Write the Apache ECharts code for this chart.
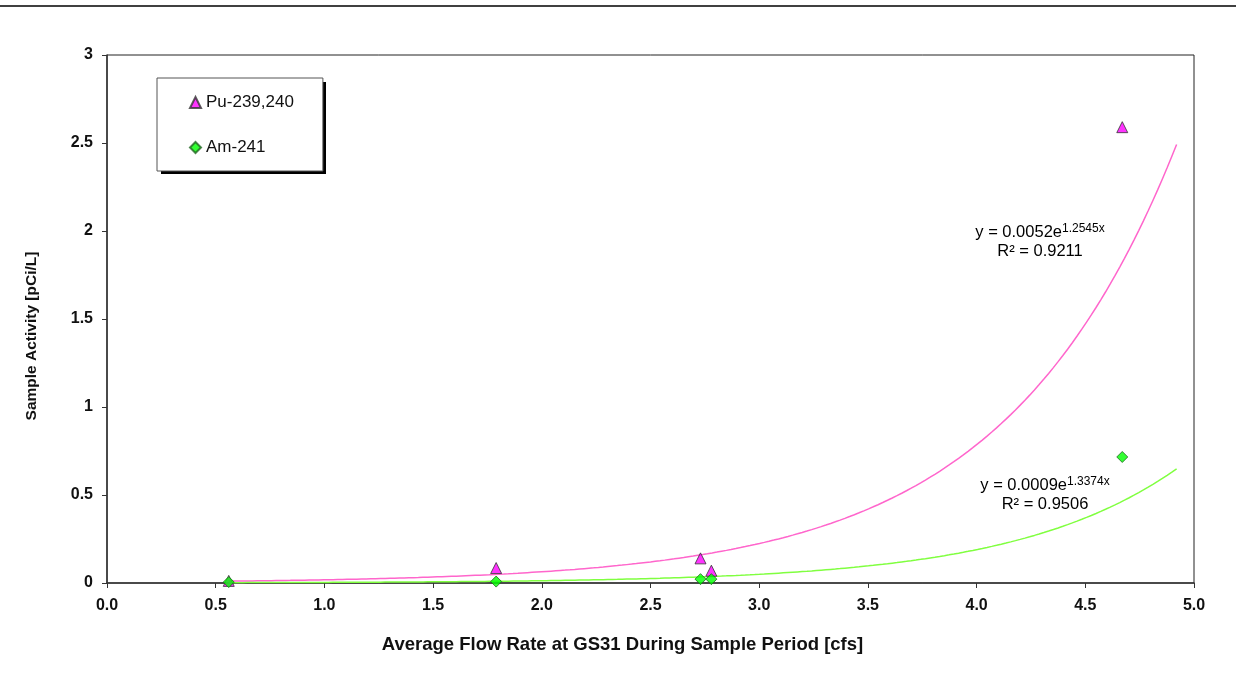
<!DOCTYPE html>
<html>
<head>
<meta charset="utf-8">
<script src="https://cdn.jsdelivr.net/npm/echarts@6/dist/echarts.min.js"></script>
<style>
  html, body { margin: 0; padding: 0; background: #fff; }
  #chart { width: 1236px; height: 673px; }
</style>
</head>
<body>
<div id="chart"></div>
<script>
// Average flow rate at GS31 [cfs] for each sample
const flowRate = [0.56, 1.79, 2.73, 2.78, 4.67];
// Sample activity [pCi/L]
const puActivity = [0.012, 0.085, 0.14, 0.07, 2.59];
const amActivity = [0.005, 0.008, 0.022, 0.022, 0.716];

// Exponential trendlines y = a * e^(b x)
const puFit = { a: 0.0052, b: 1.2545, r2: '0.9211', from: 0.56, to: 4.92 };
const amFit = { a: 0.0009, b: 1.3374, r2: '0.9506', from: 0.56, to: 4.92 };

const xTicks = { min: 0, max: 5, interval: 0.5 };
const yTicks = { min: 0, max: 3, interval: 0.5 };

function pairs(xs, ys) { return xs.map((x, i) => [x, ys[i]]); }
function trend(fit) {
  const pts = [];
  const n = 200;
  for (let i = 0; i <= n; i++) {
    const x = fit.from + (fit.to - fit.from) * i / n;
    pts.push([x, fit.a * Math.exp(fit.b * x)]);
  }
  return pts;
}
function equation(fit) {
  return '{b|y = ' + fit.a + 'e}{s|' + fit.b + 'x}\n{b|R² = ' + fit.r2 + '}';
}

const FONT = '"Liberation Sans", Arial, sans-serif';
const eqRich = {
  b: { fontFamily: FONT, fontSize: 16.5, color: '#222', lineHeight: 19, align: 'center' },
  s: { fontFamily: FONT, fontSize: 12, color: '#222', lineHeight: 19, verticalAlign: 'top', padding: [0, 0, 7, 0] }
};

const chart = echarts.init(document.getElementById('chart'), null, { renderer: 'canvas' });

chart.setOption({
  animation: false,
  backgroundColor: '#fff',
  textStyle: { fontFamily: FONT },
  grid: { left: 107, right: 42, top: 55, bottom: 90, show: true, borderColor: '#222', borderWidth: 1 },
  xAxis: {
    type: 'value', min: xTicks.min, max: xTicks.max, interval: xTicks.interval,
    name: 'Average Flow Rate at GS31 During Sample Period [cfs]',
    nameLocation: 'middle', nameGap: 52,
    nameTextStyle: { fontFamily: FONT, fontWeight: 'bold', fontSize: 18.5, color: '#111', padding: [0, 56, 0, 0] },
    axisLine: { show: true, lineStyle: { color: '#333', width: 1.5 } },
    axisTick: { show: true, length: 5, lineStyle: { color: '#333' } },
    axisLabel: { fontFamily: FONT, fontWeight: 'bold', fontSize: 16, color: '#111', margin: 15,
      formatter: v => v.toFixed(1) },
    splitLine: { show: false }
  },
  yAxis: {
    type: 'value', min: yTicks.min, max: yTicks.max, interval: yTicks.interval,
    name: 'Sample Activity [pCi/L]',
    nameLocation: 'middle', nameGap: 67, nameRotate: 90,
    nameTextStyle: { fontFamily: FONT, fontWeight: 'bold', fontSize: 15.5, color: '#111', padding: [0, 34, 0, 0] },
    axisLine: { show: true, lineStyle: { color: '#333', width: 1.5 } },
    axisTick: { show: true, length: 5, lineStyle: { color: '#333' } },
    axisLabel: { fontFamily: FONT, fontWeight: 'bold', fontSize: 16, color: '#111', margin: 14 },
    splitLine: { show: false }
  },
  legend: {
    left: 157, top: 78, orient: 'vertical',
    padding: [16, 29, 15, 32],
    itemGap: 28, itemWidth: 11, itemHeight: 11,
    backgroundColor: '#fff', borderColor: '#555', borderWidth: 1,
    textStyle: { fontFamily: FONT, fontSize: 17, color: '#111', lineHeight: 17 },
    data: ['Pu-239,240', 'Am-241'],
    z: 10
  },
  graphic: [
    // top rule
    { type: 'line', shape: { x1: 0, y1: 6, x2: 1236, y2: 6 }, style: { stroke: '#000', lineWidth: 1.5 }, silent: true },
    // legend drop shadow
    { type: 'rect', shape: { x: 161, y: 82, width: 165, height: 92 }, style: { fill: '#000' }, z: 1, silent: true },
    {
      type: 'text', x: 1040, y: 242, z: 20,
      style: { text: equation(puFit), align: 'center', verticalAlign: 'middle', rich: eqRich }
    },
    {
      type: 'text', x: 1045, y: 495, z: 20,
      style: { text: equation(amFit), align: 'center', verticalAlign: 'middle', rich: eqRich }
    }
  ],
  series: [
    {
      name: 'Pu-239,240 trend', type: 'line', data: trend(puFit), showSymbol: false, smooth: false,
      lineStyle: { color: '#ff66cc', width: 1.5 }, silent: true, z: 2
    },
    {
      name: 'Am-241 trend', type: 'line', data: trend(amFit), showSymbol: false, smooth: false,
      lineStyle: { color: '#80ff40', width: 1.5 }, silent: true, z: 2
    },
    {
      name: 'Pu-239,240', type: 'scatter', data: pairs(flowRate, puActivity),
      symbol: 'triangle', symbolSize: 11,
      itemStyle: { color: '#ff00ff', borderColor: '#333', borderWidth: 1 }, z: 3
    },
    {
      name: 'Am-241', type: 'scatter', data: pairs(flowRate, amActivity),
      symbol: 'diamond', symbolSize: 11,
      itemStyle: { color: '#00ff00', borderColor: '#226622', borderWidth: 1 }, z: 4
    }
  ]
});
</script>
</body>
</html>
